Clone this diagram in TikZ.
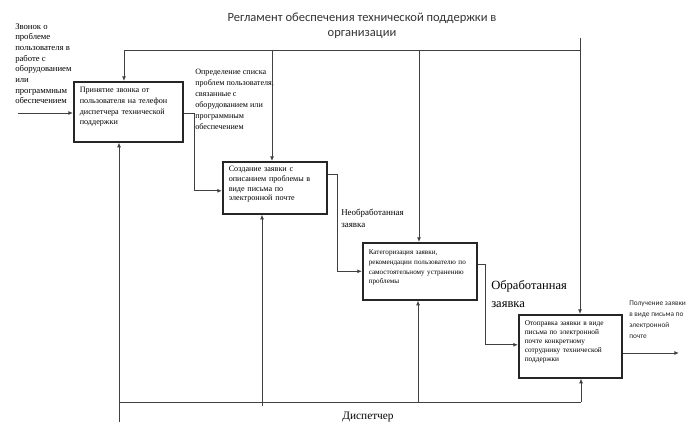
\documentclass[tikz,border=0pt]{standalone}
\usepackage{fontspec}
\setmainfont{Liberation Serif}
\newfontfamily\carlito{Carlito}
\usetikzlibrary{arrows.meta, calc}

\begin{document}
\begin{tikzpicture}[x=0.75pt, y=-0.75pt, >={Latex[length=3.5pt, width=3pt]},
  proc/.style={draw=black!85, line width=1.2pt, align=left, anchor=north west,
               inner xsep=4.5pt, inner ysep=0pt, font=\fontsize{6.1}{8}\selectfont},
  note/.style={align=left, inner sep=0pt, anchor=north west,
               font=\fontsize{6.5}{8}\selectfont},
  ln/.style={draw=black!75, line width=0.7pt},
  fl/.style={ln, ->}]
\useasboundingbox (0,0) rectangle (699,424);
% title
\node[align=center, font=\carlito\fontsize{9.4}{11.5}\selectfont, text=black!80] (title) at (362,26)
  {Регламент обеспечения технической поддержки в\\организации};
% activity boxes
\node[proc, text width=72.75pt, text height=8.25pt, text depth=36.75pt] (b1) at (73,81)
  {Принятие звонка от\\пользователя на телефон\\диспетчера технической\\поддержки};
\node[proc, text width=69pt, text height=7.5pt, text depth=31.5pt,
      font=\fontsize{6.1}{7.3}\selectfont] (b2) at (222,161)
  {Создание заявки с\\описанием проблемы в\\виде письма по\\электронной почте};
\node[proc, text width=76.5pt, text height=9pt, text depth=33.75pt,
      font=\fontsize{5.35}{7.2}\selectfont] (b3) at (362,242)
  {Категоризация заявки,\\рекомендации пользователю по\\самостоятельному устранению\\проблемы};
\node[proc, text width=68.25pt, text height=8.25pt, text depth=39pt,
      font=\fontsize{5.5}{6.75}\selectfont] (b4) at (518,314)
  {Отоправка заявки в виде\\письма по электронной\\почте конкретному\\сотруднику технической\\поддержки};
% arrow labels
\node[note] (lin) at (15,23) {Звонок о\\проблеме\\пользователя в\\работе с\\оборудованием\\или\\программным\\обеспечением};
\node[note, font=\fontsize{6.1}{8.25}\selectfont] (lctl) at (195,69)
  {Определение списка\\проблем пользователя,\\связанные с\\оборудованием или\\программным\\обеспечением};
\node[note, font=\fontsize{6.7}{9}\selectfont] (lraw) at (341,209) {Необработанная\\заявка};
\node[note, font=\fontsize{9.4}{13.5}\selectfont] (ldone) at (491,280) {Обработанная\\заявка};
\node[note, font=\carlito\fontsize{5.5}{8.2}\selectfont, text=black!85] (lout) at (629,301)
  {Получение заявки\\в виде письма по\\электронной\\почте};
\node[font=\fontsize{8.5}{10}\selectfont] (lmech) at (368,417) {Диспетчер};
% control (top)
\coordinate (ctop) at (580,38);
\coordinate (c1) at (124,50);
\coordinate (c2) at (272,50);
\coordinate (c3) at (419,50);
\draw[ln] (c1) -- (c1 -| ctop);
\draw[fl] (ctop) -- (ctop |- b4.north);
\draw[fl] (c1) -- (c1 |- b1.north);
\draw[fl] (c2) -- (c2 |- b2.north);
\draw[fl] (c3) -- (c3 |- b3.north);
% mechanism (bottom)
\coordinate (m1) at (119,422);
\coordinate (m2) at (262,406);
\coordinate (mb) at (119,402);
\coordinate (m3) at (418,402);
\coordinate (m4) at (581,402);
\draw[ln] (mb) -- (m4);
\draw[fl] (m1) -- (m1 |- b1.south);
\draw[fl] (m2) -- (m2 |- b2.south);
\draw[fl] (m3) -- (m3 |- b3.south);
\draw[fl] (m4) -- (m4 |- b4.south);
% input, flow, output
\coordinate (in) at (18,113);
\coordinate (out) at (679,353);
\draw[fl] (in) -- (in -| b1.west);
\draw[fl] ($(b1.east)+(0,2)$) -- ++(11,0) |- ($(b2.west)+(0,3)$);
\draw[fl] ($(b2.east)+(0,-13)$) -- ++(10,0) |- (b3.west);
\draw[fl] ($(b3.east)+(0,-7)$) -- ++(8,0) |- ($(b4.west)+(0,-1.5)$);
\draw[fl] (out -| b4.east) -- (out);
\end{tikzpicture}
\end{document}
